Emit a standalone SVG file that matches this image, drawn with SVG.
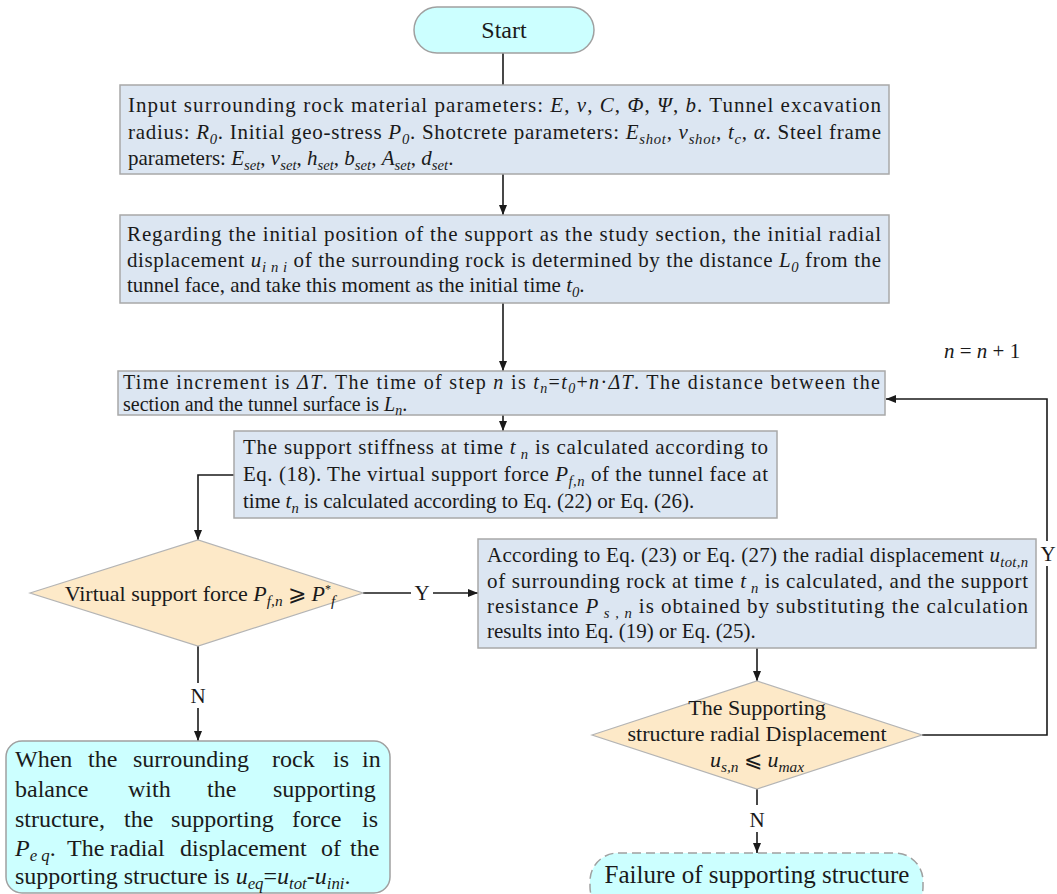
<svg xmlns="http://www.w3.org/2000/svg" width="1057" height="894" viewBox="0 0 1057 894">
<style>
.box{fill:#dce6f2;stroke:#a8a8a8;stroke-width:1.5}
.dia{fill:#fde9c8;stroke:#b4b4b4;stroke-width:1.2}
.term{fill:#ccffff;stroke:#a0a0a0;stroke-width:1.5}
.dash{stroke-dasharray:9 5}
text{font-family:"Liberation Serif","Times New Roman",serif;fill:#1a1a1a}
.f20{font-size:20px}
.f21{font-size:21px}
.f22{font-size:22px}
.f24{font-size:24px}
.i{font-style:italic}
.sb{font-style:italic;font-size:70%}
.c{stroke:#1a1a1a;stroke-width:1.6;fill:none}
.mid{text-anchor:middle}
.end{text-anchor:end}
</style>
<defs>
<marker id="ah" viewBox="0 0 10 8" refX="10" refY="4" markerWidth="10" markerHeight="8" markerUnits="userSpaceOnUse" orient="auto">
<path d="M0,0 L10,4 L0,8 z" fill="#1a1a1a"/>
</marker>
</defs>

<g id="connectors">
<line class="c" x1="503" y1="53" x2="503" y2="85"/>
<line class="c" x1="503" y1="174" x2="503" y2="215" marker-end="url(#ah)"/>
<line class="c" x1="503" y1="303" x2="503" y2="371" marker-end="url(#ah)"/>
<line class="c" x1="503" y1="415" x2="503" y2="431" marker-end="url(#ah)"/>
<polyline class="c" points="234,475 198,475 198,540" marker-end="url(#ah)"/>
<line class="c" x1="363" y1="593" x2="411" y2="593"/>
<line class="c" x1="433" y1="593" x2="478" y2="593" marker-end="url(#ah)"/>
<text class="f21 mid" x="422" y="600">Y</text>
<line class="c" x1="198" y1="646" x2="198" y2="683"/>
<line class="c" x1="198" y1="708" x2="198" y2="741" marker-end="url(#ah)"/>
<text class="f21 mid" x="198" y="703">N</text>
<line class="c" x1="757" y1="648" x2="757" y2="681" marker-end="url(#ah)"/>
<line class="c" x1="757" y1="789" x2="757" y2="805"/>
<line class="c" x1="757" y1="832" x2="757" y2="853" marker-end="url(#ah)"/>
<text class="f21 mid" x="757" y="827">N</text>
<polyline class="c" points="922,735 1047,735 1047,566"/>
<polyline class="c" points="1047,541 1047,399 886,399" marker-end="url(#ah)"/>
<text class="f21 mid" x="1048" y="561">Y</text>
<text class="f21" x="944" y="358"><tspan class="i">n</tspan> = <tspan class="i">n</tspan> + 1</text>
</g>

<g id="start">
<rect class="term" x="414" y="7" width="180" height="46" rx="23"/>
<text class="f24 mid" x="504" y="38">Start</text>
</g>

<g id="input">
<rect class="box" x="120" y="85" width="769" height="89"/>
<text class="f21" x="128" y="112" textLength="753" lengthAdjust="spacing">Input surrounding rock material parameters: <tspan class="i">E</tspan>, <tspan class="i">v</tspan>, <tspan class="i">C</tspan>, <tspan class="i">Φ</tspan>,  <tspan class="i">Ψ</tspan>, <tspan class="i">b</tspan>. Tunnel excavation</text>
<text class="f21" x="128" y="139" textLength="753" lengthAdjust="spacing">radius: <tspan class="i">R</tspan><tspan class="sb" dy="5">0</tspan><tspan dy="-5">. Initial geo-stress </tspan><tspan class="i">P</tspan><tspan class="sb" dy="5">0</tspan><tspan dy="-5">. Shotcrete parameters: </tspan><tspan class="i">E</tspan><tspan class="sb" dy="5">shot</tspan><tspan dy="-5">, </tspan><tspan class="i">v</tspan><tspan class="sb" dy="5">shot</tspan><tspan dy="-5">, </tspan><tspan class="i">t</tspan><tspan class="sb" dy="5">c</tspan><tspan dy="-5">, </tspan><tspan class="i">α</tspan>. Steel frame</text>
<text class="f21" x="128" y="165">parameters: <tspan class="i">E</tspan><tspan class="sb" dy="5">set</tspan><tspan dy="-5">, </tspan><tspan class="i">v</tspan><tspan class="sb" dy="5">set</tspan><tspan dy="-5">, </tspan><tspan class="i">h</tspan><tspan class="sb" dy="5">set</tspan><tspan dy="-5">, </tspan><tspan class="i">b</tspan><tspan class="sb" dy="5">set</tspan><tspan dy="-5">,  </tspan><tspan class="i">A</tspan><tspan class="sb" dy="5">set</tspan><tspan dy="-5">, </tspan><tspan class="i">d</tspan><tspan class="sb" dy="5">set</tspan><tspan dy="-5">.</tspan></text>
</g>

<g id="initial">
<rect class="box" x="120" y="215" width="769" height="88"/>
<text class="f21" x="127" y="241" textLength="754" lengthAdjust="spacing">Regarding the initial position of the support as the study section, the initial radial</text>
<text class="f21" x="127" y="267" textLength="754" lengthAdjust="spacing">displacement <tspan class="i">u</tspan><tspan class="sb" dy="5">i n i</tspan><tspan dy="-5"> of the surrounding rock is determined by the distance </tspan><tspan class="i">L</tspan><tspan class="sb" dy="5">0</tspan><tspan dy="-5"> from the</tspan></text>
<text class="f21" x="127" y="292">tunnel face, and take this moment as the initial time <tspan class="i">t</tspan><tspan class="sb" dy="5">0</tspan><tspan dy="-5">.</tspan></text>
</g>

<g id="timestep">
<rect class="box" x="118" y="371" width="767" height="44"/>
<text class="f20" x="123" y="389" textLength="757" lengthAdjust="spacing">Time increment is <tspan class="i">ΔT</tspan>. The time of step <tspan class="i">n</tspan> is <tspan class="i">t</tspan><tspan class="sb" dy="4">n</tspan><tspan dy="-4">=</tspan><tspan class="i">t</tspan><tspan class="sb" dy="4">0</tspan><tspan dy="-4">+</tspan><tspan class="i">n</tspan>·<tspan class="i">ΔT</tspan>. The distance between the</text>
<text class="f20" x="123" y="411">section and the tunnel surface is <tspan class="i">L</tspan><tspan class="sb" dy="4">n</tspan><tspan dy="-4">.</tspan></text>
</g>

<g id="stiffness">
<rect class="box" x="234" y="431" width="543" height="87"/>
<text class="f21" x="243" y="454" textLength="525" lengthAdjust="spacing">The support stiffness at time <tspan class="i">t</tspan><tspan class="sb" dy="5"> n</tspan><tspan dy="-5"> is calculated according to</tspan></text>
<text class="f21" x="243" y="481" textLength="525" lengthAdjust="spacing">Eq. (18). The virtual support force <tspan class="i">P</tspan><tspan class="sb" dy="5">f,n</tspan><tspan dy="-5"> of the tunnel face at</tspan></text>
<text class="f21" x="243" y="508">time <tspan class="i">t</tspan><tspan class="sb" dy="5">n</tspan><tspan dy="-5"> is calculated according to Eq. (22) or Eq. (26).</tspan></text>
</g>

<g id="check-force">
<polygon class="dia" points="30,593 198,540 363,593 198,646"/>
<text class="f22 mid" x="200" y="601">Virtual support force <tspan class="i">P</tspan><tspan class="sb" dy="5">f,n</tspan><tspan dy="-5"> ⩾ </tspan><tspan class="i">P</tspan><tspan font-size="12" dy="-8">*</tspan><tspan class="sb" dy="13">f</tspan></text>
</g>

<g id="displacement">
<rect class="box" x="478" y="539" width="558" height="109"/>
<text class="f21" x="487" y="562" textLength="541" lengthAdjust="spacing">According to Eq. (23) or Eq. (27) the radial displacement <tspan class="i">u</tspan><tspan class="sb" dy="5">tot,n</tspan></text>
<text class="f21" x="487" y="588" textLength="541" lengthAdjust="spacing">of surrounding rock at time <tspan class="i">t</tspan><tspan class="sb" dy="5"> n</tspan><tspan dy="-5"> is calculated, and the support</tspan></text>
<text class="f21" x="487" y="613" textLength="541" lengthAdjust="spacing">resistance <tspan class="i">P</tspan><tspan class="sb" dy="5"> s , n</tspan><tspan dy="-5">  is obtained by substituting the calculation</tspan></text>
<text class="f21" x="487" y="638">results into Eq. (19) or Eq. (25).</text>
</g>

<g id="check-displacement">
<polygon class="dia" points="592,735 757,681 922,735 757,789"/>
<text class="f22 mid" x="757" y="715">The Supporting</text>
<text class="f22 mid" x="757" y="741">structure radial Displacement</text>
<text class="f22 mid" x="757" y="767"><tspan class="i">u</tspan><tspan class="sb" dy="5">s,n</tspan><tspan dy="-5"> ⩽ </tspan><tspan class="i">u</tspan><tspan class="sb" dy="5">max</tspan></text>
</g>

<g id="balance">
<rect class="term" x="6" y="741" width="384" height="152" rx="16"/>
<text class="f24" y="767"><tspan x="15">When</tspan><tspan x="88">the</tspan><tspan x="133">surrounding</tspan><tspan x="272">rock</tspan><tspan x="333">is</tspan><tspan x="362">in</tspan></text>
<text class="f24" y="797"><tspan x="15">balance</tspan><tspan x="128">with</tspan><tspan x="207">the</tspan><tspan x="273">supporting</tspan></text>
<text class="f24" y="827"><tspan x="15">structure,</tspan><tspan x="124">the</tspan><tspan x="171">supporting</tspan><tspan x="292">force</tspan><tspan x="362">is</tspan></text>
<text class="f24" y="856"><tspan x="15" class="i">P</tspan><tspan class="sb" dy="5">e q</tspan><tspan dy="-5">.</tspan><tspan x="67">The</tspan><tspan x="110">radial</tspan><tspan x="180">displacement</tspan><tspan x="321">of</tspan><tspan x="350">the</tspan></text>
<text class="f24" x="15" y="884">supporting structure is <tspan class="i">u</tspan><tspan class="sb" dy="5">eq</tspan><tspan dy="-5">=</tspan><tspan class="i">u</tspan><tspan class="sb" dy="5">tot</tspan><tspan dy="-5">-</tspan><tspan class="i">u</tspan><tspan class="sb" dy="5">ini</tspan><tspan dy="-5">.</tspan></text>
</g>

<g id="failure">
<rect class="term dash" x="590" y="853" width="333" height="62" rx="28"/>
<text class="mid" x="757" y="883" font-size="25">Failure of supporting structure</text>
</g>
</svg>
